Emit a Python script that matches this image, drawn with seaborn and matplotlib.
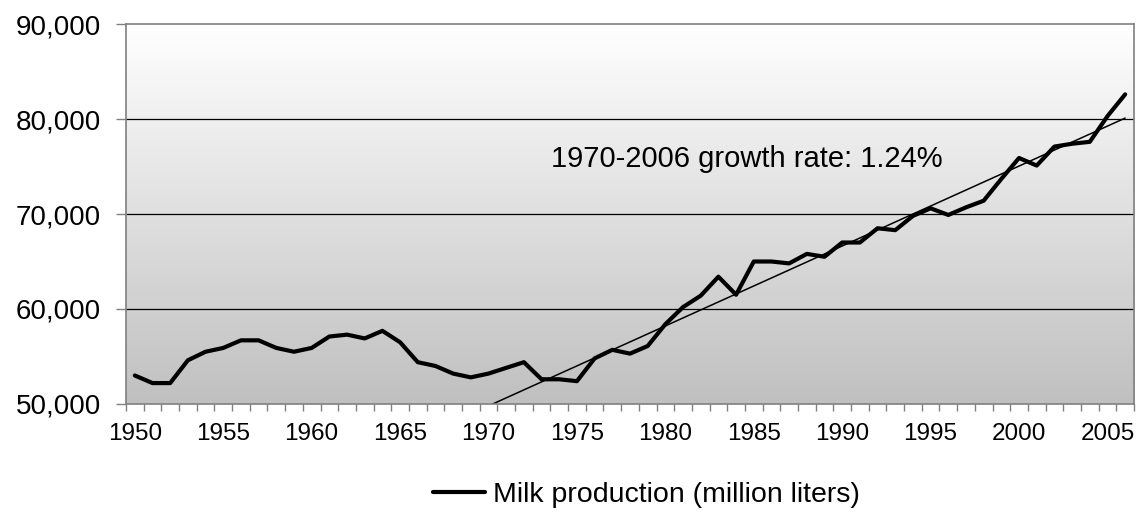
import numpy as np
import pandas as pd
import seaborn as sns
import matplotlib.pyplot as plt
from matplotlib.colors import LinearSegmentedColormap
from matplotlib.ticker import FuncFormatter, MultipleLocator, FixedLocator

years = list(range(1950, 2007))
milk = [53000, 52200, 52200, 54600, 55500, 55900, 56700, 56700, 55900, 55500,
        55900, 57100, 57300, 56900, 57700, 56500, 54400, 54000, 53200, 52800,
        53200, 53800, 54400, 52600, 52600, 52400, 54800, 55700, 55300, 56100,
        58400, 60200, 61400, 63400, 61500, 65000, 65000, 64800, 65800, 65500,
        67000, 67000, 68500, 68300, 69800, 70600, 69900, 70700, 71400, 73700,
        75900, 75100, 77100, 77400, 77600, 80300, 82600]
trend_years = [1970, 2006]
trend_vals = [49800, 80100]
label_years = list(range(1950, 2006, 5))

df = pd.DataFrame({"Year": years, "Milk": milk})
trend = pd.DataFrame({"Year": trend_years, "Milk": trend_vals})

sns.set_style("white")
plt.rcParams["font.family"] = ["Liberation Sans", "DejaVu Sans"]
plt.rcParams["text.color"] = "black"

fig = plt.figure(figsize=(11.39, 5.12), dpi=100)
ax = fig.add_axes([0.1106, 0.211, 0.885, 0.742])

# grey gradient background
cmap = LinearSegmentedColormap.from_list("bg", ["#c0c0c0", "#ffffff"])
ax.imshow(np.linspace(0, 1, 256).reshape(-1, 1), cmap=cmap, origin="lower",
          extent=[0, 1, 0, 1], transform=ax.transAxes, aspect="auto", zorder=0)

sns.lineplot(data=df, x="Year", y="Milk", ax=ax, color="black", linewidth=3.0,
             label="Milk production (million liters)", zorder=3)
sns.lineplot(data=trend, x="Year", y="Milk", ax=ax, color="black", linewidth=1.1,
             zorder=2, legend=False)

ax.set_xlim(1949.5, 2006.5)
ax.set_ylim(50000, 90000)

for v in [60000, 70000, 80000]:
    ax.axhline(v, color="black", linewidth=0.9, zorder=1)

ax.yaxis.set_major_locator(MultipleLocator(10000))
ax.yaxis.set_major_formatter(FuncFormatter(lambda v, p: f"{v:,.0f}"))
ax.xaxis.set_major_locator(FixedLocator(label_years))
ax.xaxis.set_minor_locator(FixedLocator([y - 0.5 for y in years] + [2006.5]))
ax.tick_params(axis="x", which="major", length=0, pad=14, labelsize=17.5,
               labelcolor="black")
ax.tick_params(axis="x", which="minor", length=5, width=1, color="#808080",
               direction="out", bottom=True)
ax.tick_params(axis="y", which="major", length=7, width=1, color="#808080",
               direction="out", left=True, pad=11, labelsize=20,
               labelcolor="black")
ax.set_xlabel("")
ax.set_ylabel("")

for s in ax.spines.values():
    s.set_visible(True)
    s.set_color("#808080")
    s.set_linewidth(1.2)

ax.text(0.422, 0.645, "1970-2006 growth rate: 1.24%", transform=ax.transAxes,
        ha="left", va="center", fontsize=21, color="black", zorder=4)

handles, labels = ax.get_legend_handles_labels()
ax.get_legend().remove()
fig.legend(handles, labels, loc="center", bbox_to_anchor=(0.5676, 0.033),
           frameon=False, fontsize=20.5, handlelength=1.8, handletextpad=0.28,
           labelcolor="black")

fig.savefig("out.png", dpi=100)
